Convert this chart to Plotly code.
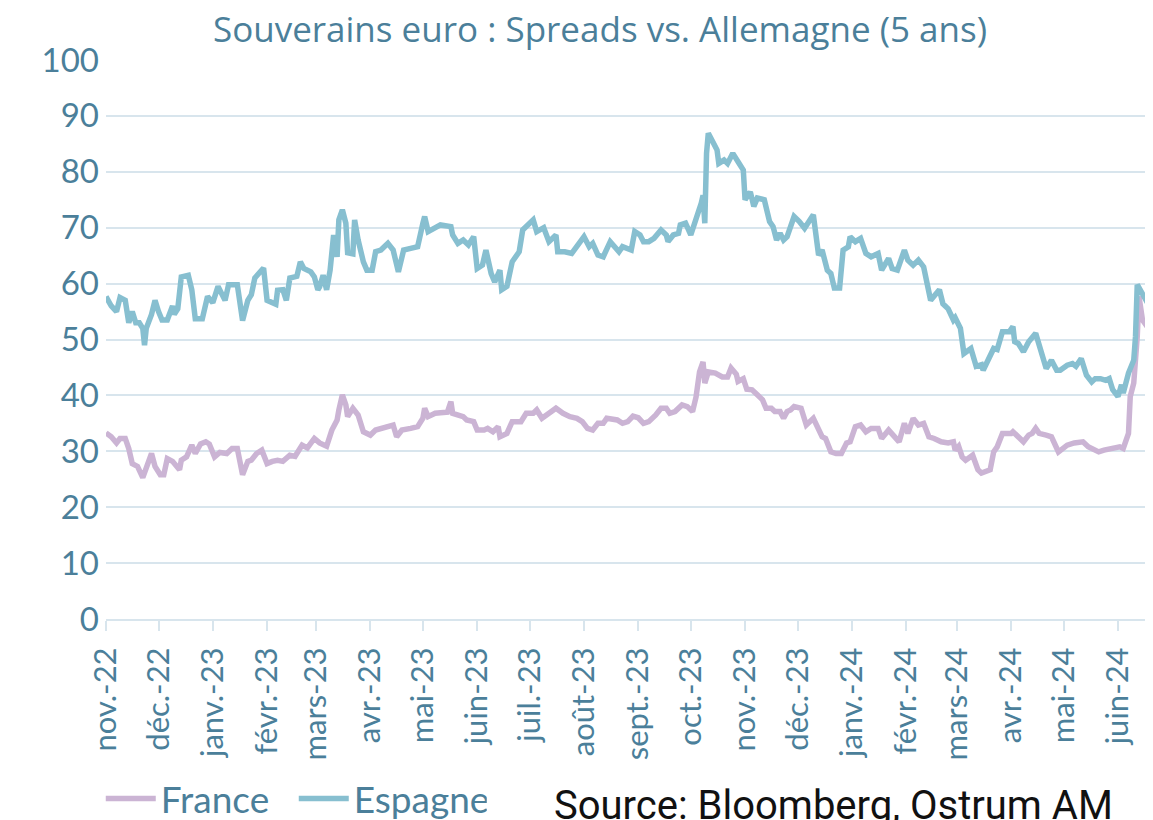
import pandas as pd
import plotly.graph_objects as go

# day offsets from 2022-11-01 and spread values (bp)
START = "2022-11-01"

esp_days = [
    0, 3, 6, 8, 11, 13, 15, 17, 19, 21,
    22, 23, 26, 28, 30, 32, 35, 38, 39, 41,
    43, 47, 49, 51, 55, 58, 61, 64, 68, 70,
    75, 78, 81, 83, 85, 90, 92, 97, 98, 101,
    103, 105, 109, 111, 113, 117, 119, 121, 122, 124,
    126, 128, 130, 132, 133, 135, 137, 138, 141, 142,
    144, 147, 149, 152, 154, 157, 161, 164, 167, 170,
    174, 178, 181, 182, 184, 191, 197, 198, 201, 204,
    207, 210, 212, 215, 217, 220, 222, 225, 226, 229,
    232, 236, 238, 241, 244, 246, 250, 253, 257, 258,
    262, 266, 269, 273, 276, 278, 281, 284, 288, 293,
    295, 300, 302, 305, 307, 310, 313, 317, 320, 321,
    324, 327, 328, 331, 334, 337, 340, 341, 342, 343,
    344, 347, 349, 350, 353, 355, 358, 361, 364, 365,
    368, 370, 372, 376, 379, 381, 383, 385, 387, 389,
    393, 396, 399, 404, 407, 409, 412, 414, 416, 419,
    421, 424, 425, 428, 431, 434, 437, 441, 443, 447,
    449, 452, 456, 458, 461, 464, 467, 469, 471, 476,
    478, 481, 484, 485, 488, 490, 494, 497, 500, 501,
    504, 507, 509, 512, 516, 518, 519, 521, 524, 527,
    531, 534, 537, 540, 543, 545, 549, 552, 554, 557,
    560, 563, 565, 568, 571, 573, 575, 578, 580, 581,
    584, 587, 588, 589, 592, 595, 598,
]
esp_vals = [
    57.7, 56.0, 55.0, 57.5, 57.0, 53.0, 55.0, 53.0, 53.0, 52.0,
    49.0, 52.0, 54.5, 57.0, 55.0, 53.5, 53.5, 56.0, 54.5, 55.5,
    61.2, 61.5, 58.9, 53.7, 53.7, 57.7, 56.6, 59.5, 57.0, 59.8,
    59.8, 53.4, 57.0, 58.0, 61.0, 62.8, 57.0, 56.3, 58.8, 58.9,
    57.0, 61.0, 61.3, 63.9, 62.7, 62.1, 61.2, 58.9, 59.4, 61.5,
    58.9, 62.4, 68.7, 64.8, 71.4, 73.2, 70.8, 65.5, 65.3, 71.4,
    67.8, 63.9, 62.4, 62.4, 65.7, 66.0, 67.2, 66.0, 62.1, 66.0,
    66.3, 66.6, 70.8, 72.0, 69.3, 70.5, 70.2, 68.7, 67.2, 67.8,
    66.9, 68.4, 62.7, 63.3, 66.0, 61.8, 60.3, 62.4, 58.9, 59.5,
    63.9, 65.7, 69.6, 70.5, 71.4, 69.3, 70.0, 67.5, 68.7, 65.7,
    65.7, 65.4, 66.6, 68.4, 66.6, 67.2, 65.1, 64.8, 67.5, 65.7,
    66.6, 66.0, 69.3, 68.7, 67.5, 67.5, 68.1, 69.6, 68.7, 67.5,
    68.7, 69.0, 70.5, 70.8, 68.7, 71.4, 74.4, 75.8, 70.8, 83.3,
    86.9, 85.1, 83.9, 81.5, 82.1, 81.5, 83.3, 81.8, 80.3, 75.0,
    76.4, 73.8, 75.3, 75.0, 71.1, 70.2, 67.8, 69.0, 67.8, 68.4,
    72.0, 71.1, 69.9, 72.3, 65.1, 66.0, 62.4, 61.8, 59.2, 59.2,
    66.0, 66.6, 68.4, 67.5, 68.1, 65.4, 64.8, 65.4, 62.4, 64.5,
    62.7, 62.4, 66.0, 64.2, 63.3, 64.2, 63.0, 60.0, 57.0, 58.9,
    56.4, 55.5, 53.5, 53.9, 52.0, 47.5, 48.4, 45.2, 45.5, 44.5,
    46.6, 48.4, 48.2, 51.4, 51.4, 52.3, 49.6, 49.3, 47.8, 49.6,
    51.1, 47.8, 44.8, 46.3, 44.5, 44.5, 45.4, 45.7, 45.2, 46.6,
    43.6, 42.4, 43.0, 43.0, 42.7, 43.0, 41.0, 39.8, 41.9, 40.4,
    44.0, 46.3, 50.5, 59.8, 58.3, 56.5, 54.7,
]

fra_days = [
    0, 3, 6, 8, 11, 13, 15, 18, 21, 23,
    26, 28, 31, 33, 35, 38, 42, 43, 46, 49,
    51, 54, 57, 59, 62, 65, 69, 72, 75, 78,
    81, 83, 86, 89, 92, 95, 98, 101, 105, 108,
    112, 115, 119, 122, 126, 129, 132, 133, 135, 137,
    138, 141, 144, 147, 151, 154, 158, 164, 166, 169,
    174, 178, 181, 182, 184, 188, 191, 195, 197, 198,
    204, 206, 210, 212, 216, 218, 221, 224, 225, 229,
    232, 237, 240, 244, 246, 249, 253, 257, 261, 265,
    269, 272, 275, 278, 281, 284, 286, 290, 292, 295,
    298, 301, 304, 307, 310, 314, 317, 320, 322, 325,
    329, 332, 335, 337, 339, 341, 342, 344, 348, 352,
    355, 357, 360, 361, 364, 366, 369, 372, 375, 377,
    380, 382, 385, 387, 389, 391, 393, 397, 400, 404,
    407, 409, 411, 414, 417, 420, 423, 425, 428, 431,
    434, 437, 441, 443, 447, 449, 453, 456, 458, 461,
    464, 467, 470, 473, 477, 481, 484, 485, 487, 489,
    491, 495, 498, 500, 503, 505, 507, 509, 512, 517,
    518, 521, 524, 527, 529, 531, 533, 537, 540, 544,
    547, 549, 553, 558, 561, 567, 570, 575, 579, 581,
    584, 585, 587, 589, 590, 592, 594, 596, 598,
]
fra_vals = [
    33.3, 32.6, 31.5, 32.3, 32.3, 30.5, 27.8, 27.3, 25.3, 27.3,
    29.6, 27.3, 25.8, 25.8, 28.7, 28.2, 26.7, 28.4, 29.0, 31.1,
    29.6, 31.3, 31.7, 31.3, 29.0, 29.8, 29.6, 30.5, 30.5, 25.8,
    28.2, 28.4, 29.6, 30.2, 27.8, 28.2, 28.4, 28.2, 29.3, 29.1,
    31.1, 30.6, 32.3, 31.5, 30.9, 33.8, 35.6, 37.4, 40.1, 38.3,
    36.2, 37.7, 36.5, 33.5, 32.9, 33.8, 34.1, 34.7, 32.6, 33.8,
    34.1, 34.4, 35.9, 37.7, 36.2, 36.8, 36.9, 37.0, 38.9, 36.8,
    36.2, 35.6, 35.3, 33.8, 33.8, 34.1, 33.5, 34.4, 32.6, 33.2,
    35.3, 35.3, 36.8, 36.8, 37.4, 35.9, 36.8, 37.7, 36.8, 36.2,
    35.9, 35.3, 34.1, 33.8, 35.0, 35.0, 35.9, 35.6, 35.6, 35.0,
    35.3, 36.3, 36.0, 35.0, 35.3, 36.5, 37.7, 37.7, 36.8, 37.1,
    38.3, 38.0, 37.1, 39.7, 44.2, 46.0, 42.2, 44.2, 44.0, 43.3,
    43.3, 44.9, 43.8, 42.5, 43.0, 41.1, 41.0, 40.1, 39.2, 37.7,
    37.7, 37.1, 37.1, 35.9, 37.1, 37.4, 38.0, 37.7, 34.7, 35.9,
    33.8, 32.6, 32.3, 29.9, 29.6, 29.6, 31.5, 31.7, 34.4, 34.7,
    33.5, 34.1, 34.1, 32.3, 33.8, 33.2, 31.7, 35.0, 33.2, 35.9,
    34.7, 35.0, 32.6, 32.3, 31.7, 31.5, 31.7, 30.2, 30.9, 29.0,
    28.4, 29.3, 26.7, 26.1, 26.4, 26.7, 29.9, 30.8, 33.2, 33.2,
    33.5, 32.6, 31.7, 32.9, 33.2, 34.1, 33.2, 32.9, 32.6, 29.9,
    30.8, 31.1, 31.5, 31.7, 30.8, 29.9, 30.2, 30.5, 30.8, 30.5,
    33.2, 39.8, 42.2, 50.5, 57.7, 53.5, 52.6, 53.2, 53.5,
]

month_ticks = pd.date_range("2022-11-01", "2024-06-01", freq="MS")
month_labels = ["nov.-22", "déc.-22", "janv.-23", "févr.-23", "mars-23", "avr.-23",
                "mai-23", "juin-23", "juil.-23", "août-23", "sept.-23", "oct.-23",
                "nov.-23", "déc.-23", "janv.-24", "févr.-24", "mars-24", "avr.-24",
                "mai-24", "juin-24"]

TEXT = "#4b7f9a"
GRID = "#d8e5ed"
FONT = "Lato"


def to_dates(days):
    return pd.Timestamp(START) + pd.to_timedelta(days, unit="D")


fig = go.Figure()
fig.add_trace(go.Scatter(x=to_dates(fra_days), y=fra_vals, mode="lines", name="France",
                         line=dict(color="#cbb4d4", width=5.5)))
fig.add_trace(go.Scatter(x=to_dates(esp_days), y=esp_vals, mode="lines", name="Espagne",
                         line=dict(color="#87bfd0", width=5.5)))

fig.add_annotation(text="Source: Bloomberg, Ostrum AM", xref="paper", yref="paper",
                   x=0.426, y=-0.333, xanchor="left", yanchor="middle", showarrow=False,
                   font=dict(family="Roboto", size=40, color="#111111"))

# page body keeps an 8px margin, so the figure is 8px smaller than the window
fig.update_layout(
    width=1145, height=812, plot_bgcolor="white", paper_bgcolor="white",
    margin=dict(l=98, r=0, t=52, b=201, autoexpand=False),
    font=dict(family=FONT, color=TEXT),
    title=dict(text="Souverains euro : Spreads vs. Allemagne (5 ans)", x=0.517, xanchor="center",
               yref="container", y=0.988, yanchor="top",
               font=dict(family="Open Sans", size=35, color=TEXT)),
    showlegend=True,
    legend=dict(orientation="h", x=-0.005, xanchor="left",
                yref="container", y=0.026, yanchor="middle",
                font=dict(family=FONT, size=37, color=TEXT), itemwidth=50,
                entrywidth=128, bgcolor="rgba(0,0,0,0)"),
    xaxis=dict(range=[pd.Timestamp("2022-11-01"), pd.Timestamp("2024-06-21")],
               tickvals=month_ticks, ticktext=month_labels, tickangle=-90,
               ticks="outside", ticklen=10, tickcolor=GRID, tickwidth=2,
               ticklabelstandoff=4, automargin=False,
               showgrid=False, showline=True, linecolor=GRID, linewidth=2,
               tickfont=dict(family=FONT, size=31, color=TEXT), zeroline=False),
    yaxis=dict(range=[0, 100], dtick=10, showgrid=True, gridcolor=GRID, gridwidth=2,
               zeroline=False, tickfont=dict(family=FONT, size=33, color=TEXT),
               ticks="", ticklabelstandoff=6, automargin=False),
)

fig.write_html("out.html")
